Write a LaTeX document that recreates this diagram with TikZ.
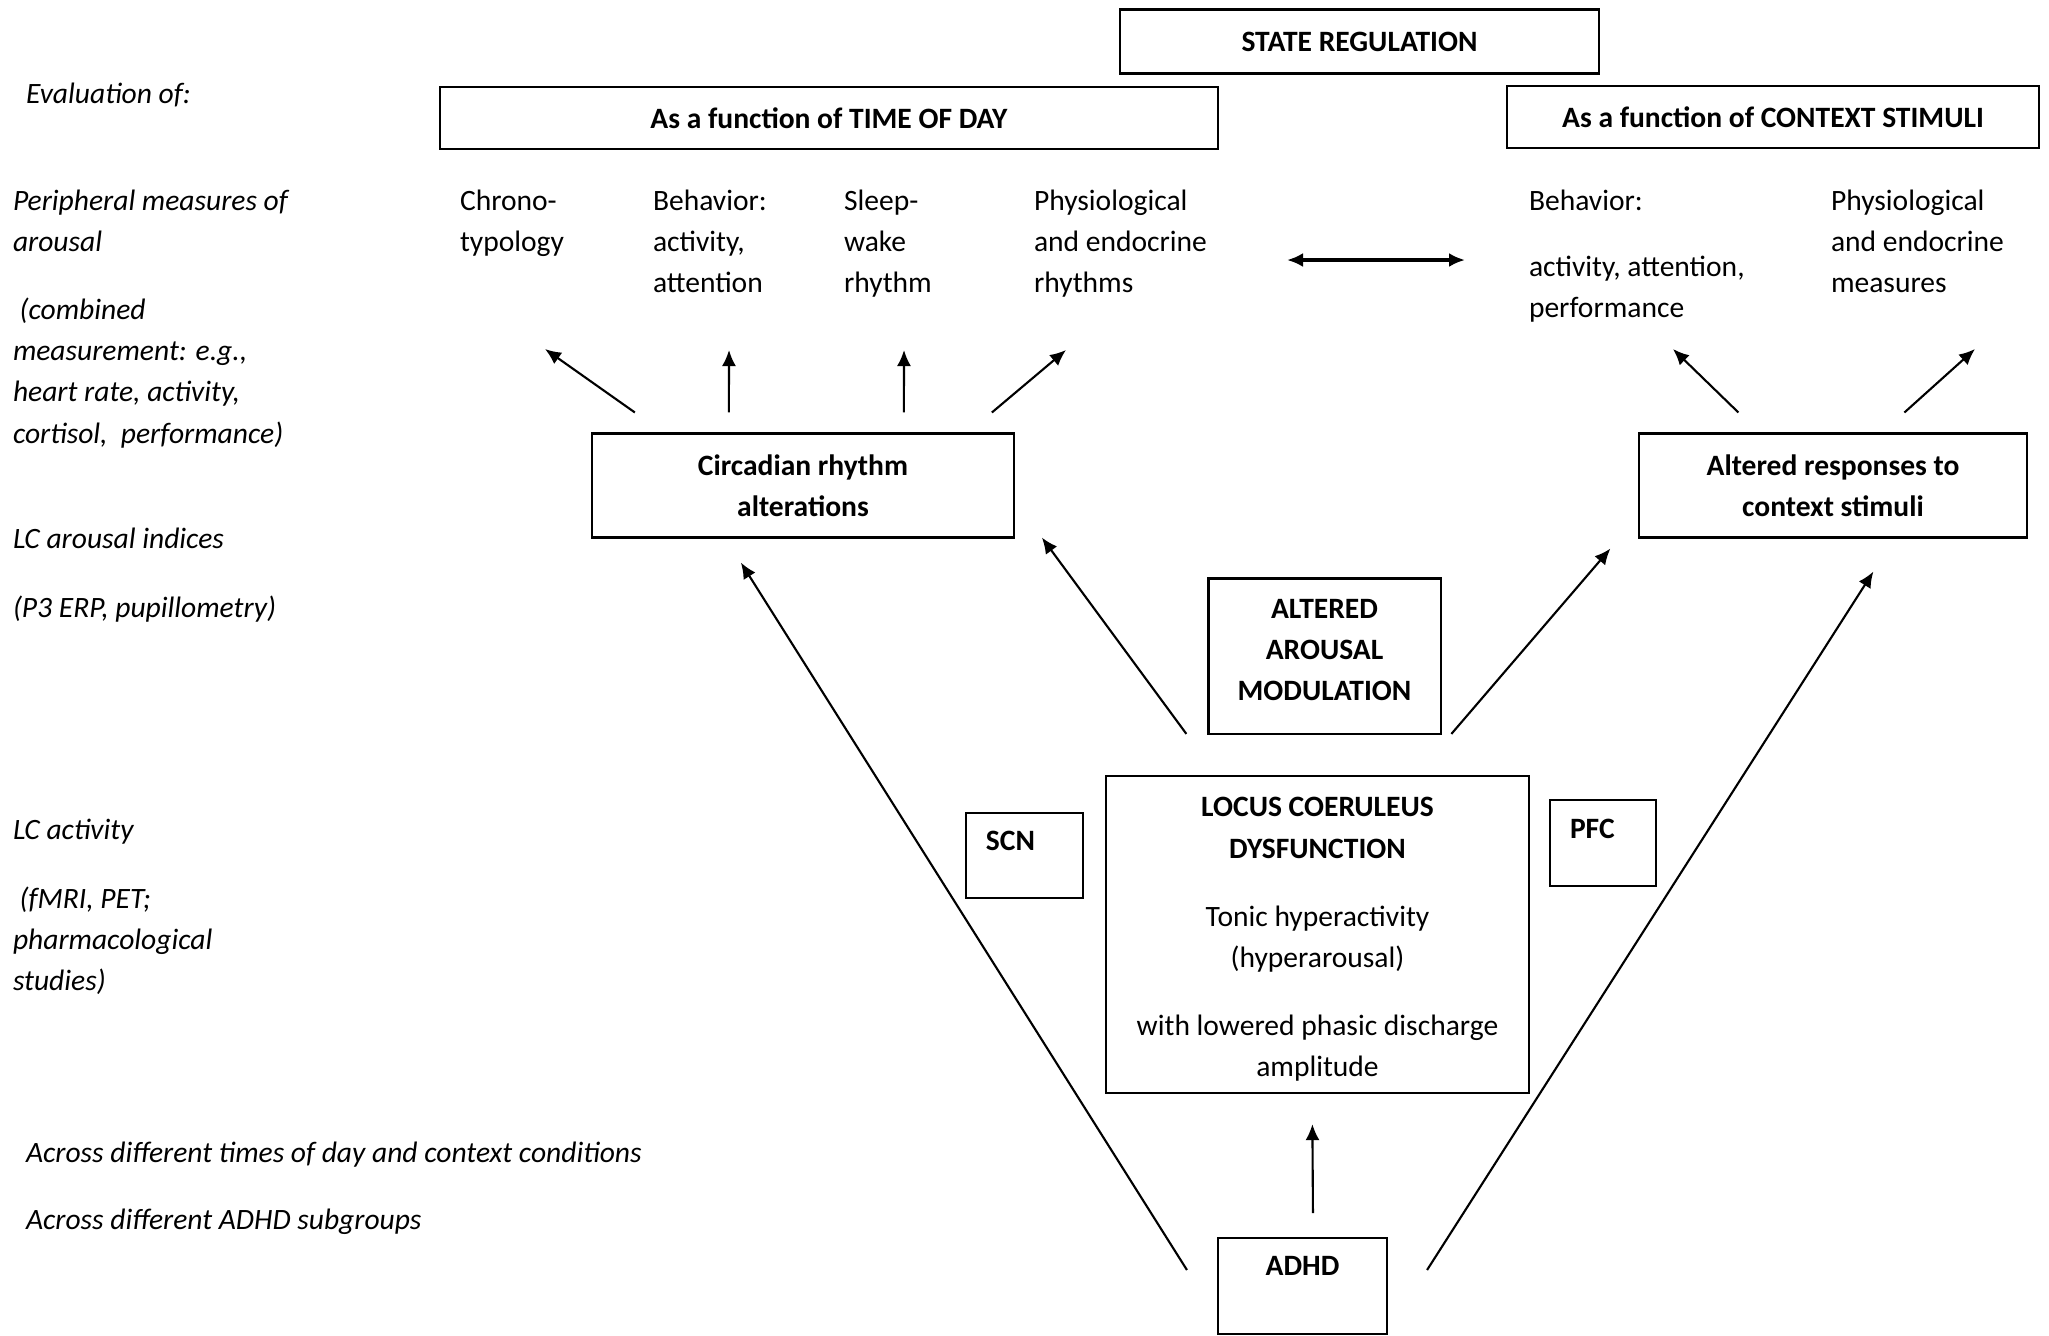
\documentclass[tikz,border=0pt]{standalone}
\usepackage{fontspec}
\setmainfont{Carlito}
\usepackage{tikz}
\usetikzlibrary{positioning,arrows.meta,calc}
\newcommand{\figfont}{\fontsize{8.4}{11.7}\selectfont}

\begin{document}
\begin{tikzpicture}[
    x=0.01cm, y=-0.01cm,
    every node/.style={font=\figfont},
    box/.style={rectangle, draw, line width=0.6pt, outer sep=0pt,
                inner sep=0pt, align=center, font=\figfont\bfseries},
    tag/.style={box, text height=6pt, text depth=8.7pt},
    txt/.style={anchor=north west, inner sep=0pt, outer sep=0pt, align=left},
    note/.style={txt, font=\figfont\itshape},
    arr/.style={-{Latex[length=1.6mm,width=1.4mm]}, line width=0.6pt},
    both/.style={{Latex[length=1.6mm,width=1.4mm]}-{Latex[length=1.6mm,width=1.4mm]}, line width=0.9pt},
  ]
    \useasboundingbox (0,0) rectangle (2049,1335);

    % headings
    \node[box, minimum width=4.79cm, minimum height=0.64cm] (state) at (1359.5,41.5) {STATE REGULATION};
    \node[box, minimum width=7.78cm, minimum height=0.62cm] (tod)   at (829,118)    {As a function of TIME OF DAY};
    \node[box, minimum width=5.31cm, minimum height=0.62cm] (ctx)   at (1773,117)   {As a function of CONTEXT STIMULI};

    % left column
    \node[note] (eval)    at (26,83)   {Evaluation of:};
    \node[note] (perif)   at (13,190)  {Peripheral measures of\\arousal};
    \node[note] (comb)    at (13,298)  {\ (combined\\measurement: e.g.,\\heart rate, activity,\\cortisol,\ \ performance)};
    \node[note] (lcidx)   at (13,528)  {LC arousal indices};
    \node[note] (pthree)  at (13,596)  {(P3 ERP, pupillometry)};
    \node[note] (lcact)   at (13,819)  {LC activity};
    \node[note] (fmri)    at (13,887)  {\ (fMRI, PET;\\pharmacological\\studies)};
    \node[note] (times)   at (26,1142) {Across different times of day and context conditions};
    \node[note] (groups)  at (26,1209) {Across different ADHD subgroups};

    % measures
    \node[txt] (chrono)  at (460,190)  {Chrono-\\typology};
    \node[txt] (behav)   at (653,190)  {Behavior:\\activity,\\attention};
    \node[txt] (sleep)   at (844,190)  {Sleep-\\wake\\rhythm};
    \node[txt] (physio)  at (1034,190) {Physiological\\and endocrine\\rhythms};
    \node[txt] (rbehav)  at (1529,190) {Behavior:\\[0.25cm]activity, attention,\\performance};
    \node[txt] (rphysio) at (1831,190) {Physiological\\and endocrine\\measures};

    % middle and lower boxes
    \node[box, minimum width=4.22cm, minimum height=1.04cm] (circ)    at (803,485.5)  {Circadian rhythm\\alterations};
    \node[box, minimum width=3.87cm, minimum height=1.04cm] (altresp) at (1833,485.5) {Altered responses to\\context stimuli};
    \node[box, minimum width=2.32cm, minimum height=1.55cm] (aam)     at (1324.5,656)
      {ALTERED\\AROUSAL\\MODULATION\rule[-0.12cm]{0pt}{0pt}};
    \node[box, font=\figfont, minimum width=4.22cm, minimum height=3.17cm] (lc) at (1317.5,934.5)
      {\rule{0pt}{8.3pt}\textbf{LOCUS COERULEUS}\\\textbf{DYSFUNCTION}\\[0.27cm]Tonic hyperactivity\\(hyperarousal)\\[0.27cm]with lowered phasic discharge\\amplitude};
    \node[tag, align=left, text width=0.77cm, inner xsep=0.2cm, minimum height=0.85cm] (scn) at (1024.5,855.5) {SCN};
    \node[tag, align=left, text width=0.66cm, inner xsep=0.2cm, minimum height=0.86cm] (pfc) at (1603,843)    {PFC};
    \node[tag, text depth=11.8pt, minimum width=1.69cm, minimum height=0.96cm] (adhd) at (1302.5,1286) {ADHD};

    % arrows
    \draw[arr] ($(circ.north west)+(43,-21)$)  -- ($(chrono.north west)+(85,159)$);
    \draw[arr] ($(circ.north west)+(137,-21)$) -- ($(behav.north west)+(76,160)$);
    \draw[arr] ($(circ.north west)+(312,-21)$) -- ($(sleep.north west)+(60,160)$);
    \draw[arr] ($(circ.north west)+(400,-21)$) -- ($(physio.north west)+(32,160)$);
    \draw[arr] ($(altresp.north west)+(99,-21)$)  -- ($(rbehav.north west)+(144,159)$);
    \draw[arr] ($(altresp.north west)+(265,-21)$) -- ($(rphysio.north west)+(144,159)$);
    \draw[both] ($(physio.north west)+(253,70)$) -- ($(rbehav.north west)+(-64,70)$);

    \draw[arr] ($(lc.north west)+(80,-42)$)  -- ($(circ.south west)+(450,0)$);
    \draw[arr] ($(lc.north west)+(345,-42)$) -- ($(altresp.south west)+(-29,11)$);
    \draw[arr] ($(adhd.north west)+(95,-25)$) -- ($(lc.south west)+(206,31)$);
    \draw[arr] ($(adhd.north west)+(-31,32)$) -- ($(circ.south west)+(149,25)$);
    \draw[arr] ($(adhd.north east)+(40,32)$)  -- ($(altresp.south west)+(234,34)$);
\end{tikzpicture}
\end{document}
